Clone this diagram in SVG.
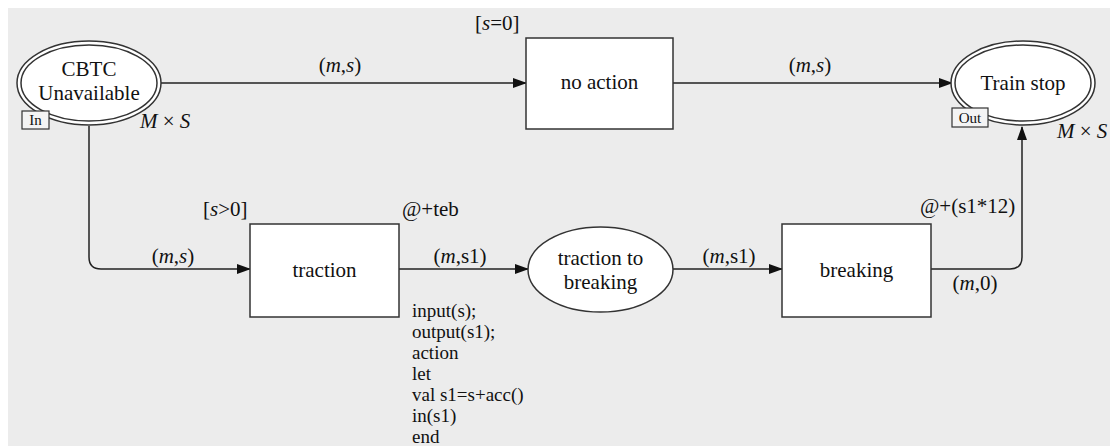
<svg xmlns="http://www.w3.org/2000/svg" width="1110" height="446" viewBox="0 0 1110 446">
<style>
text{font-family:"Liberation Serif","Times New Roman",serif;font-size:21px;fill:#111}
.c{text-anchor:middle}
.i{font-style:italic}
.code{font-size:19px}
.node{fill:#fff;stroke:#333;stroke-width:1.5}
.port{fill:#f4f4f4;stroke:#333;stroke-width:1.2}
.port-t{font-size:15px}
.edge{fill:none;stroke:#222;stroke-width:1.5}
</style>
<defs>
<marker id="arr" markerWidth="14" markerHeight="10" refX="13" refY="5" orient="auto" markerUnits="userSpaceOnUse">
<path d="M0,0 L14,5 L0,10 z" fill="#111"/>
</marker>
</defs>
<rect x="0" y="0" width="1110" height="446" fill="#fff"/>
<rect x="8" y="8" width="1102" height="438" fill="#ececec"/>

<g id="connectors">
<path class="edge" d="M161,83 L526,83" marker-end="url(#arr)"/>
<path class="edge" d="M673,83 L952,83" marker-end="url(#arr)"/>
<path class="edge" d="M89,126 L89,257 Q89,269 101,269 L250,269" marker-end="url(#arr)"/>
<path class="edge" d="M399,269 L528,269" marker-end="url(#arr)"/>
<path class="edge" d="M673,269 L782,269" marker-end="url(#arr)"/>
<path class="edge" d="M931,269 L1010,269 Q1022,269 1022,257 L1022,127" marker-end="url(#arr)"/>
</g>

<g id="edge-labels">
<text class="c" x="340" y="72"><tspan>(</tspan><tspan class="i">m</tspan><tspan>,</tspan><tspan class="i">s</tspan><tspan>)</tspan></text>
<text class="c" x="810" y="72"><tspan>(</tspan><tspan class="i">m</tspan><tspan>,</tspan><tspan class="i">s</tspan><tspan>)</tspan></text>
<text class="c" x="173" y="263"><tspan>(</tspan><tspan class="i">m</tspan><tspan>,</tspan><tspan class="i">s</tspan><tspan>)</tspan></text>
<text class="c" x="460" y="263"><tspan>(</tspan><tspan class="i">m</tspan><tspan>,s1)</tspan></text>
<text class="c" x="729" y="263"><tspan>(</tspan><tspan class="i">m</tspan><tspan>,s1)</tspan></text>
<text class="c" x="975" y="290"><tspan>(</tspan><tspan class="i">m</tspan><tspan>,0)</tspan></text>
<text x="920" y="213">@+(s1*12)</text>
</g>

<g id="cbtc-unavailable">
<ellipse class="node" cx="89" cy="83" rx="72" ry="42"/>
<ellipse fill="none" stroke="#333" stroke-width="1.5" cx="89" cy="83" rx="68" ry="38"/>
<text class="c" x="89" y="76">CBTC</text>
<text class="c" x="89" y="100">Unavailable</text>
<rect class="port" x="22" y="111" width="27" height="18"/>
<text class="c port-t" x="35.5" y="125">In</text>
<text class="i" x="140" y="128">M<tspan font-style="normal"> × </tspan>S</text>
</g>

<g id="no-action">
<rect class="node" x="526" y="38" width="147" height="91"/>
<text class="c" x="599.5" y="89">no action</text>
<text x="475" y="30">[<tspan class="i">s</tspan>=0]</text>
</g>

<g id="train-stop">
<ellipse class="node" cx="1023" cy="83" rx="72" ry="42"/>
<ellipse fill="none" stroke="#333" stroke-width="1.5" cx="1023" cy="83" rx="68" ry="38"/>
<text class="c" x="1023" y="90">Train stop</text>
<rect class="port" x="952" y="108" width="36" height="19"/>
<text class="c port-t" x="970" y="123">Out</text>
<text class="i" x="1057" y="138">M<tspan font-style="normal"> × </tspan>S</text>
</g>

<g id="traction">
<rect class="node" x="250" y="224" width="149" height="93"/>
<text class="c" x="324.5" y="277">traction</text>
<text x="203" y="216">[<tspan class="i">s</tspan>&gt;0]</text>
<text x="402" y="216">@+teb</text>
<text class="code" x="412" y="317">input(s);</text>
<text class="code" x="412" y="338">output(s1);</text>
<text class="code" x="412" y="359">action</text>
<text class="code" x="412" y="380">let</text>
<text class="code" x="412" y="401">val s1=s+acc()</text>
<text class="code" x="412" y="422">in(s1)</text>
<text class="code" x="412" y="443">end</text>
</g>

<g id="traction-to-breaking">
<ellipse class="node" cx="600.5" cy="269.5" rx="72.5" ry="42.5"/>
<text class="c" x="600.5" y="265">traction to</text>
<text class="c" x="600.5" y="289">breaking</text>
</g>

<g id="breaking">
<rect class="node" x="782" y="224" width="149" height="93"/>
<text class="c" x="856.5" y="277">breaking</text>
</g>
</svg>
